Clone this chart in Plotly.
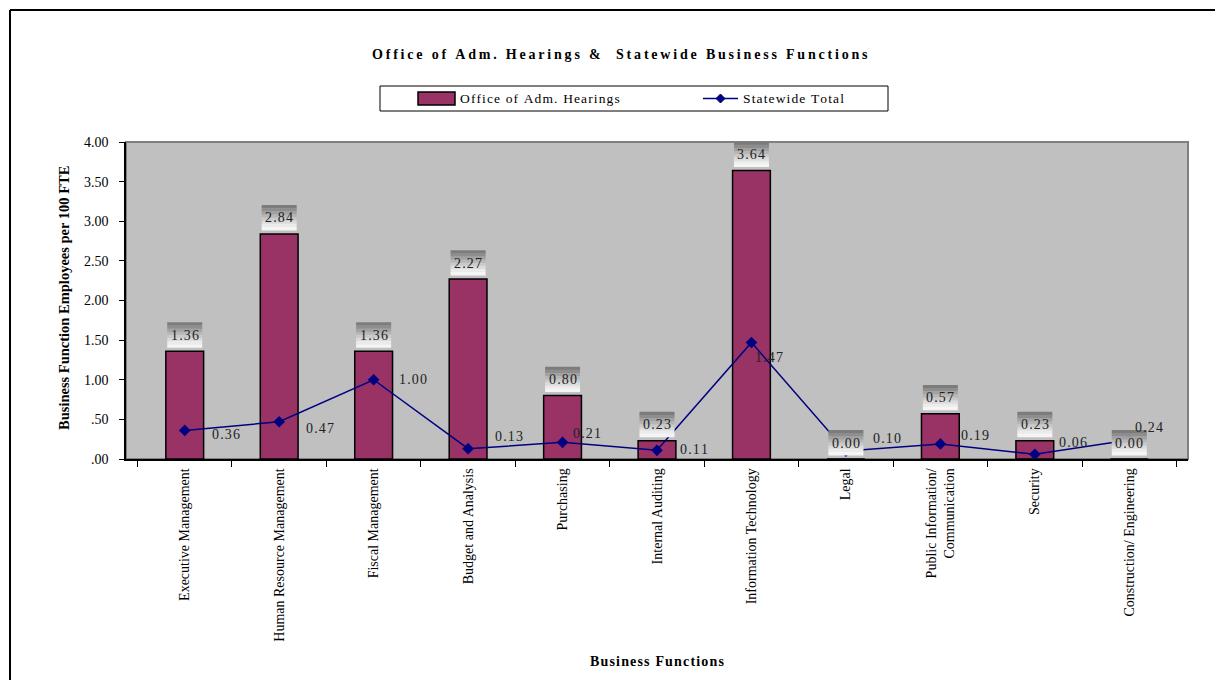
import plotly.graph_objects as go

categories = ["Executive Management", "Human Resource Management", "Fiscal Management",
              "Budget and Analysis", "Purchasing", "Internal Auditing",
              "Information Technology", "Legal", "Public Information/<br>Communication",
              "Security", "Construction/ Engineering"]
office_values = [1.36, 2.84, 1.36, 2.27, 0.80, 0.23, 3.64, 0.00, 0.57, 0.23, 0.00]
statewide_values = [0.36, 0.47, 1.00, 0.13, 0.21, 0.11, 1.47, 0.10, 0.19, 0.06, 0.24]
y_tick_vals = [0, 0.5, 1, 1.5, 2, 2.5, 3, 3.5, 4]
y_tick_text = [".00", ".50", "1.00", "1.50", "2.00", "2.50", "3.00", "3.50", "4.00"]

# label offsets (pixels) for the line labels: (dx, dy up)
line_label_offsets = [(41, -4), (41, -7), (39, 0), (41, 12), (24, 9), (37, 1),
                      (18, -15), (41, 13), (35, 8), (38, 12), (20, 12)]

W, H = 1207, 672
OFF = 8  # page offset of the figure inside the browser window
FONT = "Liberation Serif, Times New Roman, serif"


def px(x):
    return (x - OFF) / W


def py(y):
    return 1 - (y - OFF) / H


def spaced(s, sp="\u200a"):
    return sp.join(list(s))


x0p, x1p = px(126), px(1188)
y0p, y1p = py(459), py(142)

fig = go.Figure()
fig.add_trace(go.Bar(x=categories, y=office_values, name="Office of Adm. Hearings",
                     marker=dict(color="#993366", line=dict(color="black", width=1.5)),
                     width=0.4, showlegend=False))
fig.add_trace(go.Scatter(x=categories, y=statewide_values, name="Statewide Total",
                         mode="lines+markers",
                         line=dict(color="#000080", width=1.5),
                         marker=dict(symbol="diamond", size=9, color="#000080"),
                         showlegend=False))

shapes = []
annotations = []
# plot area border (gray)
shapes.append(dict(type="rect", xref="paper", yref="paper", x0=x0p, x1=x1p, y0=y0p, y1=y1p,
                   line=dict(color="#808080", width=2), fillcolor="rgba(0,0,0,0)", layer="below"))
# outer chart border (left and top)
shapes.append(dict(type="line", xref="paper", yref="paper", x0=px(10), x1=px(10), y0=0, y1=py(10),
                   line=dict(color="black", width=2)))
shapes.append(dict(type="line", xref="paper", yref="paper", x0=px(10), x1=1, y0=py(10), y1=py(10),
                   line=dict(color="black", width=2)))

# gradient label boxes above bars
stripe_colors = ["#7c7c7c", "#8e8e8e", "#a2a2a2", "#b6b6b6", "#cacaca", "#dcdcdc", "#ebebeb", "#f5f5f5"]
stripe_h = 3.125
box_bottom = 3.5
n = len(stripe_colors)
for i, v in enumerate(office_values):
    for k, c in enumerate(stripe_colors):
        top = box_bottom + (n - k) * stripe_h
        bot = box_bottom + (n - k - 1) * stripe_h
        shapes.append(dict(type="rect", xref="x", yref="y", xsizemode="pixel", ysizemode="pixel",
                           xanchor=i, yanchor=v, x0=-17.5, x1=17.5, y0=bot, y1=top + 0.4,
                           line=dict(width=0), fillcolor=c, layer="above"))
    annotations.append(dict(x=i, y=v, xref="x", yref="y", text=spaced(f"{v:.2f}"), showarrow=False,
                            yshift=box_bottom + n * stripe_h / 2,
                            font=dict(family=FONT, size=14, color="#222")))

for i, v in enumerate(statewide_values):
    dx, dy = line_label_offsets[i]
    annotations.append(dict(x=i, y=v, xref="x", yref="y", text=spaced(f"{v:.2f}"), showarrow=False,
                            xshift=dx, yshift=dy, font=dict(family=FONT, size=14, color="#222")))

# title
annotations.append(dict(x=px(620), y=py(55), xref="paper", yref="paper", showarrow=False,
                        xanchor="center", yanchor="middle",
                        text="<b>" + spaced("Office of Adm. Hearings &  Statewide Business Functions", "\u2009") + "</b>",
                        font=dict(family=FONT, size=14, color="black")))
# axis titles
annotations.append(dict(x=px(64), y=py(298), xref="paper", yref="paper", showarrow=False,
                        xanchor="center", yanchor="middle",
                        text="<b>Business Function Employees per 100 FTE</b>", textangle=-90,
                        font=dict(family=FONT, size=14.5, color="black")))
annotations.append(dict(x=px(657), y=py(661), xref="paper", yref="paper", showarrow=False,
                        xanchor="center", yanchor="middle",
                        text="<b>" + spaced("Business Functions") + "</b>",
                        font=dict(family=FONT, size=14, color="black")))

# manual legend
shapes.append(dict(type="rect", xref="paper", yref="paper", x0=px(380), x1=px(888),
                   y0=py(111), y1=py(86), line=dict(color="black", width=1), fillcolor="white"))
shapes.append(dict(type="rect", xref="paper", yref="paper", x0=px(418), x1=px(455),
                   y0=py(105), y1=py(92), line=dict(color="black", width=1.5), fillcolor="#993366"))
shapes.append(dict(type="line", xref="paper", yref="paper", x0=px(703), x1=px(738),
                   y0=py(98.5), y1=py(98.5), line=dict(color="#000080", width=1.5)))
cx, cy = 720.5, 98.5
shapes.append(dict(type="path", xref="paper", yref="paper",
                   path=f"M {px(cx-4.5)},{py(cy)} L {px(cx)},{py(cy-4.5)} L {px(cx+4.5)},{py(cy)} L {px(cx)},{py(cy+4.5)} Z",
                   line=dict(color="#000080", width=1), fillcolor="#000080"))
annotations.append(dict(x=px(458), y=py(98.5), xref="paper", yref="paper", xanchor="left",
                        yanchor="middle", showarrow=False, text=spaced("Office of Adm. Hearings"),
                        font=dict(family=FONT, size=13.5, color="black")))
annotations.append(dict(x=px(741), y=py(98.5), xref="paper", yref="paper", xanchor="left",
                        yanchor="middle", showarrow=False, text=spaced("Statewide Total"),
                        font=dict(family=FONT, size=13.5, color="black")))

fig.update_layout(
    width=W, height=H, autosize=False,
    margin=dict(l=0, r=0, t=0, b=0),
    paper_bgcolor="white", plot_bgcolor="#C0C0C0",
    shapes=shapes, annotations=annotations,
    xaxis=dict(domain=[x0p, x1p], type="category", tickson="boundaries", ticks="outside",
               ticklen=6, tickcolor="black", tickwidth=1, showline=True, linecolor="black",
               linewidth=1.5, tickangle=-90, showgrid=False, automargin=False,
               ticklabelstandoff=2,
               tickfont=dict(family=FONT, size=14, color="black")),
    yaxis=dict(domain=[y0p, y1p], range=[0, 4], tickvals=y_tick_vals, ticktext=y_tick_text,
               ticks="outside", ticklen=5, tickcolor="black", showline=True, linecolor="black",
               linewidth=1.5, showgrid=False, zeroline=False, automargin=False,
               ticklabelstandoff=8,
               tickfont=dict(family=FONT, size=14, color="black")),
)

fig.write_html("out.html")
